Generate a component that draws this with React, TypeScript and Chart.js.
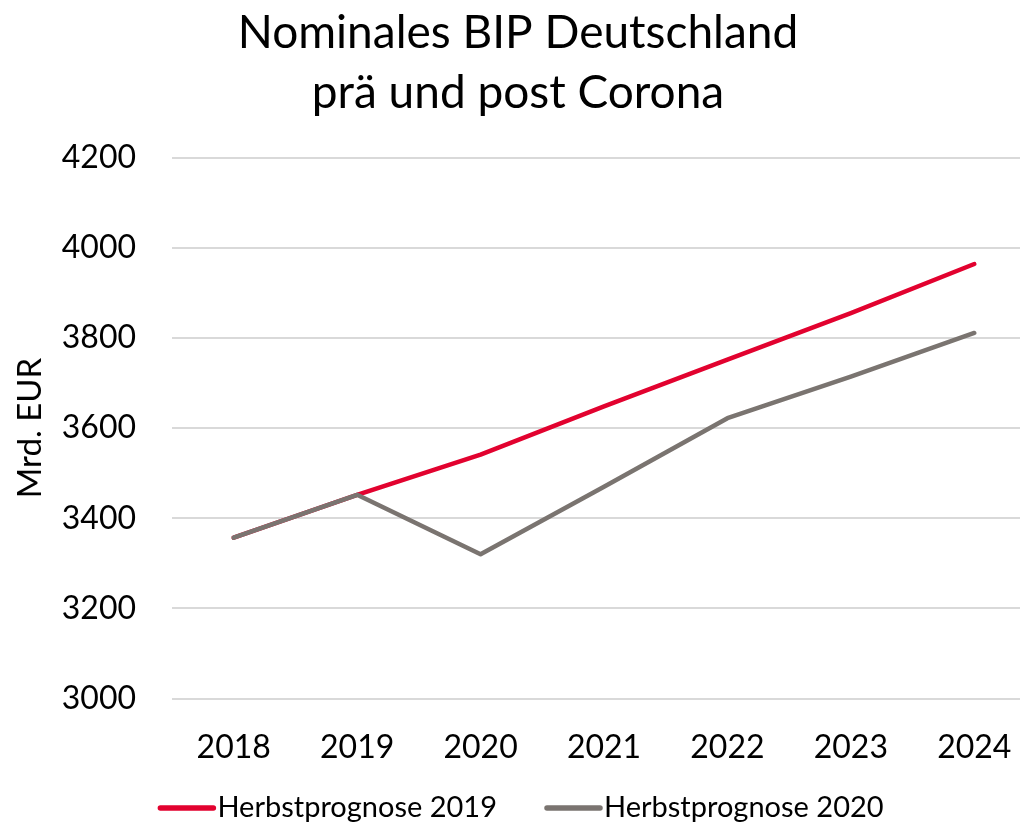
import React, { useEffect, useRef } from "react";
import { Chart, registerables } from "chart.js";

Chart.register(...registerables);

const categories = ["2018", "2019", "2020", "2021", "2022", "2023", "2024"];
const seriesNames = ["Herbstprognose 2019", "Herbstprognose 2020"];
const herbst2019 = [3357, 3452, 3541, 3648, 3752, 3855, 3964];
const herbst2020 = [3357, 3452, 3320, 3470, 3622, 3714, 3811];
const yMin = 3000;
const yMax = 4200;
const yStep = 200;
const titleLines = ["Nominales BIP Deutschland", "prä und post Corona"];
const yTitle = "Mrd. EUR";

const FONT = "Lato";
const RED = "#E2022F";
const GRAY = "#7A7470";

const legendPlugin = {
  id: "customLegend",
  afterDraw(chart: any) {
    const ctx = chart.ctx;
    const ds = chart.data.datasets;
    ctx.save();
    ctx.font = `29px ${FONT}`;
    const lineW = 57;
    const gap = 2;
    const itemGap = 48;
    const widths = ds.map((d: any) => ctx.measureText(d.label).width);
    let total = 0;
    widths.forEach((w: number) => (total += lineW + gap + w));
    total += itemGap * (ds.length - 1);
    let x = chart.width / 2 - total / 2 + 3;
    const y = 808;
    ds.forEach((d: any, i: number) => {
      ctx.strokeStyle = d.borderColor;
      ctx.lineWidth = 5.5;
      ctx.lineCap = "round";
      ctx.beginPath();
      ctx.moveTo(x + 2, y);
      ctx.lineTo(x + lineW - 2, y);
      ctx.stroke();
      ctx.fillStyle = "#000";
      ctx.textBaseline = "middle";
      ctx.textAlign = "left";
      ctx.fillText(d.label, x + lineW + gap, y);
      x += lineW + gap + widths[i] + itemGap;
    });
    ctx.restore();
  },
};

export default function App() {
  const ref = useRef<HTMLCanvasElement>(null);
  useEffect(() => {
    if (!ref.current) return;
    const chart = new Chart(ref.current, {
      type: "line",
      data: {
        labels: categories,
        datasets: [
          {
            label: seriesNames[0],
            data: herbst2019,
            borderColor: RED,
            backgroundColor: RED,
            borderWidth: 4.5,
            pointRadius: 0,
            borderCapStyle: "round",
            borderJoinStyle: "round",
            tension: 0,
            order: 2,
          },
          {
            label: seriesNames[1],
            data: herbst2020,
            borderColor: GRAY,
            backgroundColor: GRAY,
            borderWidth: 4.5,
            pointRadius: 0,
            borderCapStyle: "round",
            borderJoinStyle: "round",
            tension: 0,
            order: 1,
          },
        ],
      },
      options: {
        responsive: false,
        animation: false,
        devicePixelRatio: 1,
        layout: { padding: { left: 0, right: 0, top: 0, bottom: 36 } },
        plugins: {
          legend: { display: false },
          tooltip: { enabled: false },
          title: {
            display: true,
            text: titleLines,
            color: "#000",
            font: { family: FONT, size: 46, weight: "normal", lineHeight: 1.3 },
            padding: { top: 3, bottom: 35 },
          },
        },
        scales: {
          x: {
            offset: true,
            grid: { display: false },
            border: { display: false },
            ticks: {
              color: "#000",
              font: { family: FONT, size: 32 },
              padding: 22,
              maxRotation: 0,
            },
          },
          y: {
            min: yMin,
            max: yMax,
            border: { display: false },
            grid: { color: "#D9D9D9", lineWidth: 2, drawTicks: false },
            ticks: {
              stepSize: yStep,
              color: "#000",
              font: { family: FONT, size: 32 },
              padding: 36,
              callback: (v: any) => String(v),
            },
            title: {
              display: true,
              text: yTitle,
              color: "#000",
              font: { family: FONT, size: 33 },
              padding: { top: 11, bottom: 0 },
            },
            afterFit(scale: any) {
              scale.width = 172;
            },
          },
        },
      },
      plugins: [legendPlugin],
    });
    return () => chart.destroy();
  }, []);
  return (
    <div
      style={{
        position: "absolute",
        top: 0,
        left: 0,
        width: 1020,
        height: 825,
        overflow: "hidden",
        background: "#fff",
      }}
    >
      <canvas ref={ref} width={1036} height={825} style={{ display: "block" }} />
    </div>
  );
}
